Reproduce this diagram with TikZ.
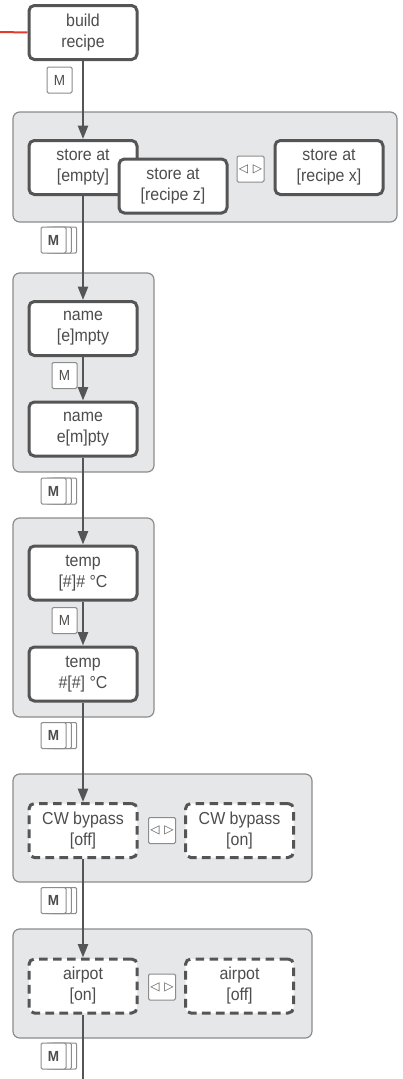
\documentclass[tikz,border=0pt]{standalone}
\usepackage{fontspec}
\setmainfont{Liberation Sans}[FakeStretch=0.92]
\newfontfamily\symfont{DejaVu Sans}
\usetikzlibrary{arrows.meta}

\definecolor{boxgray}{HTML}{555555}
\definecolor{txtgray}{HTML}{4D4D4D}
\definecolor{groupfill}{HTML}{E6E7E8}
\definecolor{groupline}{HTML}{8C8C8C}
\definecolor{keyline}{HTML}{8C8C8C}
\definecolor{redline}{HTML}{E53A2E}

\tikzset{
	state/.style={draw=boxgray,line width=2.25pt,rounded corners=4pt,fill=white,text=txtgray,
		align=center,inner sep=0pt,minimum width=81pt,minimum height=40.5pt,
		font=\fontsize{13}{15.75}\selectfont},
	option/.style={state,dash pattern=on 6.5pt off 4pt},
	group/.style={draw=groupline,fill=groupfill,line width=0.9pt,rounded corners=5pt,inner sep=0pt},
	key/.style={draw=keyline,line width=0.75pt,fill=white,rounded corners=1pt,inner sep=0pt,
		minimum width=18.75pt,minimum height=19.5pt,text=txtgray,font=\fontsize{11}{12}\selectfont},
	holdkey/.style={key,font=\bfseries\fontsize{11}{12}\selectfont,
		preaction={draw=keyline,fill=white,line width=0.75pt,transform canvas={xshift=8pt}},
		preaction={draw=keyline,fill=white,line width=0.75pt,transform canvas={xshift=4pt}}},
	swapkey/.style={key,minimum width=20.25pt,text=boxgray,font=\symfont\fontsize{9}{10}\selectfont},
	flow/.style={draw=boxgray,line width=1.6pt,-{Triangle[length=10pt,width=7.5pt]}},
}

\begin{document}
\begin{tikzpicture}[x=0.75pt,y=-0.75pt]
	\useasboundingbox (0,0) rectangle (403,1079);

	%Groups
	\node[group,minimum width=288pt,minimum height=82.5pt] at (205,167) (g1) {};
	\node[group,minimum width=105.75pt,minimum height=149.25pt] at (83.5,372.5) (g2) {};
	\node[group,minimum width=105.75pt,minimum height=149.25pt] at (83.5,617.5) (g3) {};
	\node[group,minimum width=224.25pt,minimum height=81pt] at (162.5,828) (g4) {};
	\node[group,minimum width=224.25pt,minimum height=81.75pt] at (162.5,983.5) (g5) {};

	%Build recipe
	\coordinate (in) at (0,32);
	\node[state] at (83,32.5) (build) {build\\recipe};
	\draw[redline,line width=1.5pt] (in)--(build.west);
	\node[key] at (59.5,80) (m0) {M};

	%Store
	\node[state] at (83,167.5) (empty) {store at\\{[}empty]};
	\node[state] at (173,186) (recz) {store at\\{[}recipe z]};
	\node[swapkey] at (250.5,169) (sw1) {◁\hspace{3.5pt}▷};
	\node[state] at (329,167.5) (recx) {store at\\{[}recipe x]};
	\node[holdkey] at (53.5,240) (h1) {M};

	%Name
	\node[state] at (83,328.5) (name1) {name\\{[}e]mpty};
	\node[key] at (64.5,375.5) (m1) {M};
	\node[state] at (83,429) (name2) {name\\e[m]pty};
	\node[holdkey] at (53.5,491) (h2) {M};

	%Temp
	\node[state] at (83,573) (temp1) {temp\\{[}\#]\# °C};
	\node[key] at (64.5,620.5) (m2) {M};
	\node[state] at (83,674) (temp2) {temp\\\#[\#] °C};
	\node[holdkey] at (53.5,735.5) (h3) {M};

	%CW bypass
	\node[option] at (83,830.5) (cw1) {CW bypass\\{[}off]};
	\node[swapkey] at (162,830.5) (sw2) {◁\hspace{3.5pt}▷};
	\node[option] at (239.5,830.5) (cw2) {CW bypass\\{[}on]};
	\node[holdkey] at (53.5,900.5) (h4) {M};

	%Airpot
	\node[option] at (83,986) (air1) {airpot\\{[}on]};
	\node[swapkey] at (162,987) (sw3) {◁\hspace{3.5pt}▷};
	\node[option] at (239.5,986) (air2) {airpot\\{[}off]};
	\node[holdkey] at (53.5,1056) (h5) {M};
	\coordinate (out) at (83,1079);

	%Flow
	\draw[flow] (build)--(empty);
	\draw[flow] (empty)--(name1);
	\draw[flow] (name1)--(name2);
	\draw[flow] (name2)--(temp1);
	\draw[flow] (temp1)--(temp2);
	\draw[flow] (temp2)--(cw1);
	\draw[flow] (cw1)--(air1);
	\draw[draw=boxgray,line width=1.6pt] (air1)--(out);
\end{tikzpicture}
\end{document}
